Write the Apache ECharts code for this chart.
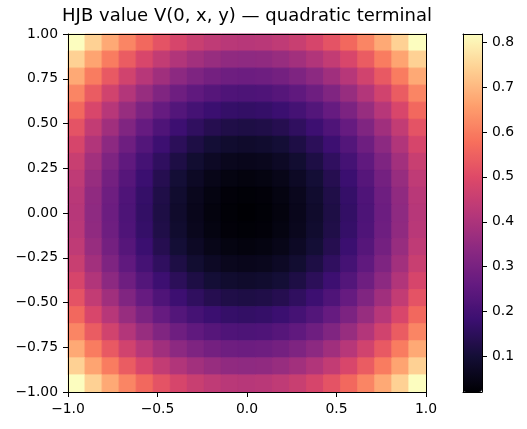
<!DOCTYPE html>
<html>
<head>
<meta charset="utf-8">
<script src="https://cdn.jsdelivr.net/npm/echarts@6/dist/echarts.min.js"></script>
<style>
html,body{margin:0;padding:0;background:#fff;}
#main{width:527px;height:429px;}
</style>
</head>
<body>
<div id="main"></div>
<script>
// grid points (x left->right, y top->bottom)
var xs = [-1.0,-0.9,-0.8,-0.7,-0.6,-0.5,-0.4,-0.3,-0.2,-0.1,0.0,0.1,0.2,0.3,0.4,0.5,0.6,0.7,0.8,0.9,1.0];
var ys = [1.0,0.9,0.8,0.7,0.6,0.5,0.4,0.3,0.2,0.1,0.0,-0.1,-0.2,-0.3,-0.4,-0.5,-0.6,-0.7,-0.8,-0.9,-1.0];
// V(0,x,y), one row per y (top row is y = 1)
var values = [
	[0.818,0.742,0.675,0.615,0.563,0.519,0.483,0.455,0.435,0.424,0.420,0.424,0.435,0.455,0.483,0.519,0.563,0.615,0.675,0.742,0.818],
	[0.742,0.667,0.599,0.539,0.487,0.443,0.408,0.380,0.360,0.348,0.344,0.348,0.360,0.380,0.408,0.443,0.487,0.539,0.599,0.667,0.742],
	[0.675,0.599,0.531,0.471,0.420,0.376,0.340,0.312,0.292,0.280,0.276,0.280,0.292,0.312,0.340,0.376,0.420,0.471,0.531,0.599,0.675],
	[0.615,0.539,0.471,0.412,0.360,0.316,0.280,0.252,0.232,0.220,0.216,0.220,0.232,0.252,0.280,0.316,0.360,0.412,0.471,0.539,0.615],
	[0.563,0.487,0.420,0.360,0.308,0.264,0.228,0.200,0.180,0.169,0.165,0.169,0.180,0.200,0.228,0.264,0.308,0.360,0.420,0.487,0.563],
	[0.519,0.443,0.376,0.316,0.264,0.220,0.184,0.157,0.137,0.125,0.121,0.125,0.137,0.157,0.184,0.220,0.264,0.316,0.376,0.443,0.519],
	[0.483,0.408,0.340,0.280,0.228,0.184,0.149,0.121,0.101,0.089,0.085,0.089,0.101,0.121,0.149,0.184,0.228,0.280,0.340,0.408,0.483],
	[0.455,0.380,0.312,0.252,0.200,0.157,0.121,0.093,0.073,0.061,0.057,0.061,0.073,0.093,0.121,0.157,0.200,0.252,0.312,0.380,0.455],
	[0.435,0.360,0.292,0.232,0.180,0.137,0.101,0.073,0.053,0.041,0.037,0.041,0.053,0.073,0.101,0.137,0.180,0.232,0.292,0.360,0.435],
	[0.424,0.348,0.280,0.220,0.169,0.125,0.089,0.061,0.041,0.029,0.025,0.029,0.041,0.061,0.089,0.125,0.169,0.220,0.280,0.348,0.424],
	[0.420,0.344,0.276,0.216,0.165,0.121,0.085,0.057,0.037,0.025,0.021,0.025,0.037,0.057,0.085,0.121,0.165,0.216,0.276,0.344,0.420],
	[0.424,0.348,0.280,0.220,0.169,0.125,0.089,0.061,0.041,0.029,0.025,0.029,0.041,0.061,0.089,0.125,0.169,0.220,0.280,0.348,0.424],
	[0.435,0.360,0.292,0.232,0.180,0.137,0.101,0.073,0.053,0.041,0.037,0.041,0.053,0.073,0.101,0.137,0.180,0.232,0.292,0.360,0.435],
	[0.455,0.380,0.312,0.252,0.200,0.157,0.121,0.093,0.073,0.061,0.057,0.061,0.073,0.093,0.121,0.157,0.200,0.252,0.312,0.380,0.455],
	[0.483,0.408,0.340,0.280,0.228,0.184,0.149,0.121,0.101,0.089,0.085,0.089,0.101,0.121,0.149,0.184,0.228,0.280,0.340,0.408,0.483],
	[0.519,0.443,0.376,0.316,0.264,0.220,0.184,0.157,0.137,0.125,0.121,0.125,0.137,0.157,0.184,0.220,0.264,0.316,0.376,0.443,0.519],
	[0.563,0.487,0.420,0.360,0.308,0.264,0.228,0.200,0.180,0.169,0.165,0.169,0.180,0.200,0.228,0.264,0.308,0.360,0.420,0.487,0.563],
	[0.615,0.539,0.471,0.412,0.360,0.316,0.280,0.252,0.232,0.220,0.216,0.220,0.232,0.252,0.280,0.316,0.360,0.412,0.471,0.539,0.615],
	[0.675,0.599,0.531,0.471,0.420,0.376,0.340,0.312,0.292,0.280,0.276,0.280,0.292,0.312,0.340,0.376,0.420,0.471,0.531,0.599,0.675],
	[0.742,0.667,0.599,0.539,0.487,0.443,0.408,0.380,0.360,0.348,0.344,0.348,0.360,0.380,0.408,0.443,0.487,0.539,0.599,0.667,0.742],
	[0.818,0.742,0.675,0.615,0.563,0.519,0.483,0.455,0.435,0.424,0.420,0.424,0.435,0.455,0.483,0.519,0.563,0.615,0.675,0.742,0.818]
];
var cbarTicks = [0.1,0.2,0.3,0.4,0.5,0.6,0.7,0.8];
var vMin = 0.021, vMax = 0.818;
// magma
var magma = ['#000004','#140e36','#3b0f70','#641a80','#8c2981','#b73779','#de4968','#f7705c','#fe9f6d','#fecf92','#fcfdbf'];

var font = 'DejaVu Sans';
var nx = xs.length, ny = ys.length;
var cw = 2 / nx, ch = 2 / ny; // image spans extent [-1,1] x [-1,1]

var cells = [];
for (var j = 0; j < ny; j++) {
	for (var i = 0; i < nx; i++) {
		cells.push([i, j, values[j][i]]);
	}
}

function fmt(d) {
	return function(v) { return v.toFixed(d).replace('-', '\u2212'); };
}
var lineStyle = {color: '#000', width: 1};
function frameAxis(grid, pos, min, max) {
	return {
		gridIndex: grid, type: 'value', position: pos, min: min, max: max, z: 10,
		axisLine: {show: true, onZero: false, lineStyle: lineStyle},
		axisTick: {show: false}, axisLabel: {show: false}, splitLine: {show: false}
	};
}

var myChart = echarts.init(document.getElementById('main'));
var option = {
	animation: false,
	textStyle: {fontFamily: font},
	title: {
		text: 'HJB value V(0, x, y) \u2014 quadratic terminal',
		left: 247, top: 7, textAlign: 'center', padding: 0,
		textStyle: {fontFamily: font, fontSize: 18, fontWeight: 'normal', color: '#000'}
	},
	grid: [
		{left: 68, top: 34, width: 358, height: 358},
		{left: 463, top: 34, width: 19, height: 358}
	],
	xAxis: [
		{
			gridIndex: 0, type: 'value', position: 'bottom', min: -1, max: 1, interval: 0.5, z: 10,
			axisLine: {show: true, onZero: false, lineStyle: lineStyle},
			axisTick: {show: true, length: 5, lineStyle: lineStyle},
			axisLabel: {color: '#000', fontSize: 13.9, margin: 10, formatter: fmt(1)},
			splitLine: {show: false}
		},
		frameAxis(0, 'top', -1, 1),
		frameAxis(1, 'bottom', 0, 1),
		frameAxis(1, 'top', 0, 1)
	],
	yAxis: [
		{
			gridIndex: 0, type: 'value', position: 'left', min: -1, max: 1, interval: 0.25, z: 10,
			axisLine: {show: true, onZero: false, lineStyle: lineStyle},
			axisTick: {show: true, length: 5, lineStyle: lineStyle},
			axisLabel: {color: '#000', fontSize: 13.9, margin: 10, formatter: fmt(2)},
			splitLine: {show: false}
		},
		frameAxis(0, 'right', -1, 1),
		frameAxis(1, 'left', vMin, vMax),
		{
			gridIndex: 1, type: 'value', position: 'right', min: vMin, max: vMax, z: 10,
			axisLine: {show: true, onZero: false, lineStyle: lineStyle},
			axisTick: {show: true, length: 5, lineStyle: lineStyle, customValues: cbarTicks},
			axisLabel: {color: '#000', fontSize: 13.9, margin: 10, customValues: cbarTicks, formatter: fmt(1)},
			splitLine: {show: false}
		}
	],
	visualMap: {
		type: 'continuous', seriesIndex: 0, dimension: 2,
		min: vMin, max: vMax,
		inRange: {color: magma},
		calculable: false, hoverLink: false,
		left: 463, top: 34, itemWidth: 19, itemHeight: 358, padding: 0,
		z: 1
	},
	series: [{
		type: 'custom',
		xAxisIndex: 0, yAxisIndex: 0,
		silent: true,
		data: cells,
		renderItem: function(params, api) {
			var i = api.value(0), j = api.value(1);
			var p0 = api.coord([-1 + i * cw, 1 - j * ch]);
			var p1 = api.coord([-1 + (i + 1) * cw, 1 - (j + 1) * ch]);
			var c = api.visual('color');
			return {
				type: 'rect',
				shape: {x: p0[0], y: p0[1], width: p1[0] - p0[0], height: p1[1] - p0[1]},
				style: {fill: c, stroke: c, lineWidth: 1}
			};
		}
	}]
};
myChart.setOption(option);
</script>
</body>
</html>
